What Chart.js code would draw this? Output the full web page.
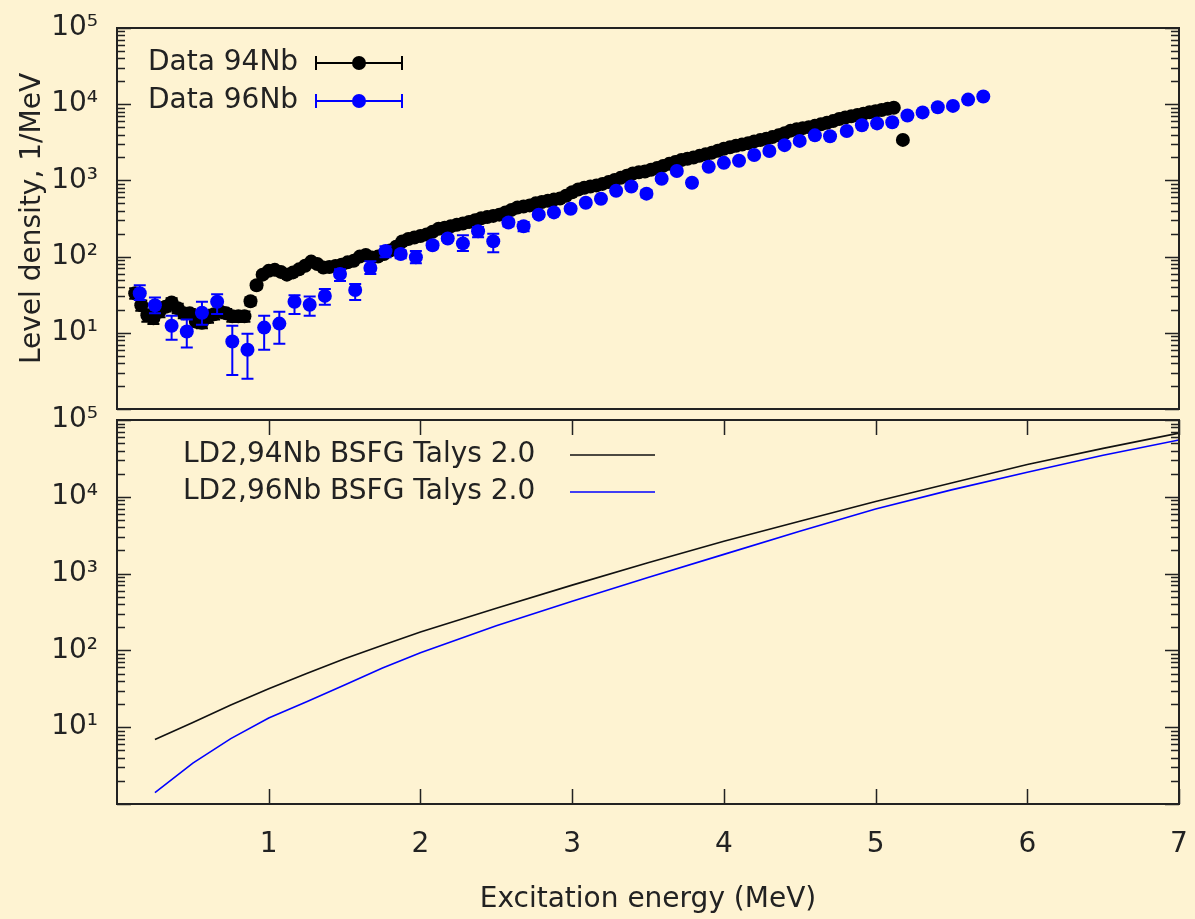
<!DOCTYPE html>
<html>
<head>
<meta charset="utf-8">
<script src="https://cdn.jsdelivr.net/npm/chart.js@4.4.0/dist/chart.umd.min.js"></script>
<style>
  body { margin: 0; background: #fef3d2; width: 1195px; height: 919px; overflow: hidden; position: relative; }
  .box { position: absolute; left: 0; }
</style>
</head>
<body>
<div class="box" style="top:0px;"><canvas id="topChart" width="1195" height="416"></canvas></div>
<div class="box" style="top:380px;"><canvas id="bottomChart" width="1195" height="539"></canvas></div>
<script>
// 94Nb data (Oslo method), energies in MeV and level density in 1/MeV
const e94 = [0.12,0.16,0.20,0.24,0.28,0.32,0.36,0.40,0.44,0.48,
  0.52,0.56,0.60,0.64,0.68,0.72,0.76,0.80,0.84,0.88,
  0.92,0.96,1.00,1.04,1.08,1.12,1.16,1.20,1.24,1.28,
  1.32,1.36,1.40,1.44,1.48,1.52,1.56,1.60,1.64,1.68,
  1.72,1.76,1.80,1.84,1.88,1.92,1.96,2.00,2.04,2.08,
  2.12,2.16,2.20,2.24,2.28,2.32,2.36,2.40,2.44,2.48,
  2.52,2.56,2.60,2.64,2.68,2.72,2.76,2.80,2.84,2.88,
  2.92,2.96,3.00,3.04,3.08,3.12,3.16,3.20,3.24,3.28,
  3.32,3.36,3.40,3.44,3.48,3.52,3.56,3.60,3.64,3.68,
  3.72,3.76,3.80,3.84,3.88,3.92,3.96,4.00,4.04,4.08,
  4.12,4.16,4.20,4.24,4.28,4.32,4.36,4.40,4.44,4.48,
  4.52,4.56,4.60,4.64,4.68,4.72,4.76,4.80,4.84,4.88,
  4.92,4.96,5.00,5.04,5.08,5.12,5.18];
const ld94 = [33,23,17,15.5,19,22,25,21,18,18,
  14,13.5,16,17.5,19,18,16.5,16.5,16.5,26,
  42,58,65,67,63,58,62,68,76,86,
  80,72,73,75,78,84,88,100,105,97,
  100,108,120,135,158,170,178,186,195,212,
  232,240,250,262,272,285,300,318,330,342,
  355,380,410,440,455,470,500,520,540,560,
  580,630,700,760,800,830,860,900,950,1010,
  1080,1150,1230,1280,1310,1380,1460,1550,1650,1750,
  1850,1920,2000,2100,2200,2300,2450,2600,2720,2850,
  2950,3080,3250,3380,3520,3700,3900,4150,4500,4700,
  4850,5000,5200,5450,5700,6000,6400,6700,6950,7200,
  7500,7850,8100,8400,8700,9000,3400];
const lo94 = [28,19.5,14,13,16,19,21.5,18,15.5,15.5,
  12,11.5,13.5,15,16.5,15.5,14,14,14,23,
  38,53,60];
const hi94 = [38.5,26.5,20,18,22,25,28.5,24,20.5,20.5,
  16,15.5,18.5,20,21.5,20.5,19,19,19,29,
  46,63,70];

// 96Nb data
const e96 = [0.15,0.25,0.36,0.46,0.56,0.66,0.76,0.86,0.97,1.07,1.17,1.27,1.37,1.47,1.57,1.67,1.77,1.87,1.97,2.08,
  2.18,2.28,2.38,2.48,2.58,2.68,2.78,2.88,2.99,3.09,3.19,3.29,3.39,3.49,3.59,3.69,3.79,3.90,4.00,4.10,
  4.20,4.30,4.40,4.50,4.60,4.70,4.81,4.91,5.01,5.11,5.21,5.31,5.41,5.51,5.61,5.71];
const ld96 = [33,23,12.4,10.4,18.3,25.5,7.7,6.0,11.7,13.2,25.5,23.3,30.5,59,36.5,71,118,108,98,141,
  173,149,215,159,280,250,355,380,425,510,575,730,830,670,1050,1330,930,1510,1700,1810,
  2150,2430,2900,3300,3900,3800,4450,5300,5600,5800,7100,7800,9100,9500,11500,12600];
const lo96 = [27,18,8.1,6.4,12.8,17.7,2.8,2.5,6.0,7.2,17.7,16.8,23.3,48,27,59,98,95,82,128,
  160,118,180,114,250,215,330,355,395,475,535,680,775,600,980,1240,850];
const hi96 = [42,29,16.8,14.9,25.5,32,12.4,9.7,16.8,18.9,31,30,37.7,68,43.6,87,137,120,118,155,
  186,190,245,200,310,285,380,405,455,545,615,780,885,740,1120,1420,1010];

// Talys 2.0 BSFG level densities
const eTal = [0.25,0.5,0.75,1.0,1.25,1.5,1.75,2.0,2.5,3.0,3.5,4.0,4.5,5.0,5.5,6.0,6.5,7.0];
const tal94 = [6.9,11.5,19.5,31.6,50,78,117,174,355,708,1380,2630,4790,8710,15100,26300,42700,67600];
const tal96 = [1.41,3.4,7.1,13.2,21.4,35.5,59,93,209,436,891,1780,3550,6920,12300,20900,34700,55000];

const yTicks = [10, 100, 1000, 10000, 100000];
const xTicks = [1, 2, 3, 4, 5, 6, 7];
const sup = ['⁰', '¹', '²', '³', '⁴', '⁵'];

Chart.defaults.font.family = "'DejaVu Sans', sans-serif";
Chart.defaults.font.size = 28;
Chart.defaults.color = '#222';

const ink = '#222';

// vertical error bars with caps, drawn under the points
const errorBars = {
  id: 'errorBars',
  beforeDatasetDraw(chart, args) {
    const ds = chart.data.datasets[args.index];
    if (!ds.errLo) return;
    const { ctx, chartArea: a, scales: { x, y } } = chart;
    ctx.save();
    ctx.beginPath();
    ctx.rect(a.left, a.top, a.right - a.left, a.bottom - a.top);
    ctx.clip();
    ctx.strokeStyle = ds.backgroundColor;
    ctx.lineWidth = 2;
    ds.data.forEach((p, i) => {
      if (ds.errLo[i] == null) return;
      const px = x.getPixelForValue(p.x);
      const y1 = y.getPixelForValue(ds.errLo[i]);
      const y2 = y.getPixelForValue(ds.errHi[i]);
      ctx.beginPath();
      ctx.moveTo(px, y1); ctx.lineTo(px, y2);
      ctx.moveTo(px - 6, y1); ctx.lineTo(px + 6, y1);
      ctx.moveTo(px - 6, y2); ctx.lineTo(px + 6, y2);
      ctx.stroke();
    });
    ctx.restore();
  }
};

// gnuplot style key: text first, sample to the right
const gpKey = {
  id: 'gpKey',
  afterDraw(chart, args, opts) {
    const ctx = chart.ctx;
    ctx.save();
    ctx.font = "28px 'DejaVu Sans'";
    ctx.textBaseline = 'middle';
    ctx.textAlign = 'left';
    opts.items.forEach((it, i) => {
      const y = opts.y + i * opts.dy;
      ctx.fillStyle = ink;
      ctx.fillText(it.text, opts.x, y);
      ctx.strokeStyle = it.color;
      ctx.fillStyle = it.color;
      ctx.lineWidth = it.kind === 'err' ? 2 : 1.5;
      ctx.beginPath();
      ctx.moveTo(opts.x1, y); ctx.lineTo(opts.x2, y);
      if (it.kind === 'err') {
        ctx.moveTo(opts.x1, y - 7); ctx.lineTo(opts.x1, y + 7);
        ctx.moveTo(opts.x2, y - 7); ctx.lineTo(opts.x2, y + 7);
      }
      ctx.stroke();
      if (it.kind === 'err') {
        ctx.beginPath();
        ctx.arc((opts.x1 + opts.x2) / 2, y, 7, 0, Math.PI * 2);
        ctx.fill();
      }
    });
    ctx.restore();
  }
};

// border box with inward ticks on all sides
const gpFrame = {
  id: 'gpFrame',
  afterDatasetsDraw(chart, args, opts) {
    const { ctx, chartArea: a, scales: { x, y } } = chart;
    ctx.save();
    ctx.strokeStyle = ink;
    ctx.lineWidth = 1.5;
    ctx.beginPath();
    for (let k = 0; k <= 5; k++) {
      for (let m = 1; m <= 9; m++) {
        if (k === 5 && m > 1) break;
        const py = Math.round(y.getPixelForValue(m * Math.pow(10, k))) + 0.5;
        const len = m === 1 ? 14 : 8;
        ctx.moveTo(a.left, py); ctx.lineTo(a.left + len, py);
        ctx.moveTo(a.right, py); ctx.lineTo(a.right - len, py);
      }
    }
    if (opts.xTicks) {
      xTicks.forEach(v => {
        const px = Math.round(x.getPixelForValue(v)) + 0.5;
        ctx.moveTo(px, a.bottom); ctx.lineTo(px, a.bottom - 15);
        ctx.moveTo(px, a.top); ctx.lineTo(px, a.top + 15);
      });
    }
    ctx.stroke();
    ctx.lineWidth = 2;
    ctx.strokeRect(a.left, a.top, a.right - a.left, a.bottom - a.top);
    ctx.restore();
  }
};

function yAxis(withTitle) {
  return {
    type: 'logarithmic', min: 1, max: 100000,
    grid: { display: false, drawTicks: false },
    border: { display: false },
    ticks: { padding: 19, callback: v => '10' + sup[Math.round(Math.log10(v))] },
    afterBuildTicks: s => { s.ticks = yTicks.map(v => ({ value: v })); },
    afterFit: s => { s.width = 117; s.paddingTop = 0; s.paddingBottom = 0; },
    title: { display: withTitle, text: 'Level density, 1/MeV', padding: { top: 16 } }
  };
}

new Chart(document.getElementById('topChart'), {
  type: 'scatter',
  data: {
    datasets: [
      { label: 'Data 94Nb', data: e94.map((e, i) => ({ x: e, y: ld94[i] })), errLo: lo94, errHi: hi94,
        backgroundColor: '#000000', borderWidth: 0, pointRadius: 7, order: 2 },
      { label: 'Data 96Nb', data: e96.map((e, i) => ({ x: e, y: ld96[i] })), errLo: lo96, errHi: hi96,
        backgroundColor: '#0000ff', borderWidth: 0, pointRadius: 7, order: 1 }
    ]
  },
  options: {
    responsive: false, animation: false, events: [],
    layout: { padding: { top: 28, right: 16, bottom: 4, left: 0 } },
    plugins: {
      legend: { display: false }, tooltip: { enabled: false },
      gpKey: { x: 148, y: 63, dy: 38, x1: 316, x2: 402, items: [
        { text: 'Data 94Nb', color: '#000000', kind: 'err' },
        { text: 'Data 96Nb', color: '#0000ff', kind: 'err' }
      ] },
      gpFrame: { xTicks: false }
    },
    scales: {
      x: { type: 'linear', min: 0, max: 7, display: false },
      y: yAxis(true)
    }
  },
  plugins: [errorBars, gpKey, gpFrame]
});

new Chart(document.getElementById('bottomChart'), {
  type: 'scatter',
  data: {
    datasets: [
      { label: 'LD2,94Nb BSFG Talys 2.0', data: eTal.map((e, i) => ({ x: e, y: tal94[i] })),
        showLine: true, pointRadius: 0, borderColor: '#111111', borderWidth: 1.6 },
      { label: 'LD2,96Nb BSFG Talys 2.0', data: eTal.map((e, i) => ({ x: e, y: tal96[i] })),
        showLine: true, pointRadius: 0, borderColor: '#0000ff', borderWidth: 1.6 }
    ]
  },
  options: {
    responsive: false, animation: false, events: [],
    layout: { padding: { top: 40, right: 16, bottom: 0, left: 0 } },
    plugins: {
      legend: { display: false }, tooltip: { enabled: false },
      gpKey: { x: 183, y: 75, dy: 37, x1: 570, x2: 655, items: [
        { text: 'LD2,94Nb BSFG Talys 2.0', color: '#111111', kind: 'line' },
        { text: 'LD2,96Nb BSFG Talys 2.0', color: '#0000ff', kind: 'line' }
      ] },
      gpFrame: { xTicks: true }
    },
    scales: {
      x: {
        type: 'linear', min: 0, max: 7,
        grid: { display: false, drawTicks: false },
        border: { display: false },
        ticks: { padding: 24, maxRotation: 0, autoSkip: false },
        afterBuildTicks: s => { s.ticks = xTicks.map(v => ({ value: v })); },
        afterFit: s => { s.height = 115; s.paddingLeft = 0; s.paddingRight = 0; },
        title: { display: true, text: 'Excitation energy (MeV)', padding: { bottom: 2 } }
      },
      y: yAxis(false)
    }
  },
  plugins: [gpKey, gpFrame]
});
</script>
</body>
</html>
